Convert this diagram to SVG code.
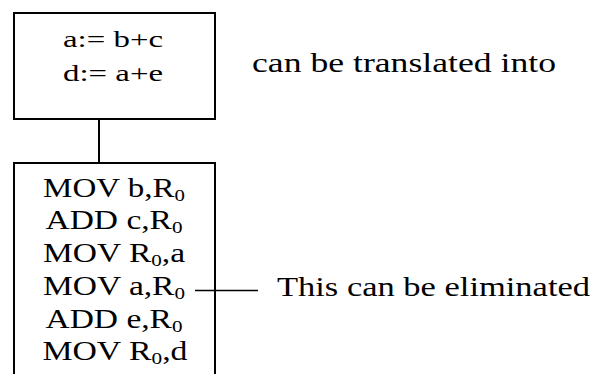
<svg xmlns="http://www.w3.org/2000/svg" width="592" height="374" viewBox="0 0 592 374">
<style>
.box{fill:#fff;stroke:#000;stroke-width:2}
.ln{stroke:#000;stroke-width:1.5;fill:none}
text{font-family:"Liberation Serif","Times New Roman",serif;fill:#000}
.code{font-size:27px;text-anchor:middle}
.sub{font-size:17px}
</style>
<rect width="592" height="374" fill="#fff"/>
<g id="source">
<rect class="box" x="14" y="13" width="201" height="106"/>
<text x="113" y="47" font-size="23" text-anchor="middle" textLength="100" lengthAdjust="spacingAndGlyphs">a:= b+c</text>
<text x="113" y="81" font-size="23" text-anchor="middle" textLength="100" lengthAdjust="spacingAndGlyphs">d:= a+e</text>
</g>
<g id="target">
<rect class="box" x="14" y="163" width="201" height="215"/>
<text class="code" x="114" y="197" textLength="142" lengthAdjust="spacingAndGlyphs">MOV b,R<tspan class="sub" dy="4">0</tspan></text>
<text class="code" x="114" y="229" textLength="137" lengthAdjust="spacingAndGlyphs">ADD c,R<tspan class="sub" dy="4">0</tspan></text>
<text class="code" x="114" y="262" textLength="142" lengthAdjust="spacingAndGlyphs">MOV R<tspan class="sub" dy="4">0</tspan><tspan dy="-4">,a</tspan></text>
<text class="code" x="114" y="295" textLength="142" lengthAdjust="spacingAndGlyphs">MOV a,R<tspan class="sub" dy="4">0</tspan></text>
<text class="code" x="114" y="328" textLength="137" lengthAdjust="spacingAndGlyphs">ADD e,R<tspan class="sub" dy="4">0</tspan></text>
<text class="code" x="115" y="360" textLength="145" lengthAdjust="spacingAndGlyphs">MOV R<tspan class="sub" dy="4">0</tspan><tspan dy="-4">,d</tspan></text>
</g>
<g id="label-translate">
<text x="252" y="72" font-size="27" textLength="304" lengthAdjust="spacingAndGlyphs">can be translated into</text>
</g>
<g id="label-eliminate">
<text x="277" y="296" font-size="28" textLength="313" lengthAdjust="spacingAndGlyphs">This can be eliminated</text>
</g>
<g id="connectors">
<line class="ln" x1="99" y1="120" x2="99" y2="163" style="stroke-width:2"/>
<line class="ln" x1="195" y1="290.5" x2="258" y2="290.5"/>
</g>
</svg>
